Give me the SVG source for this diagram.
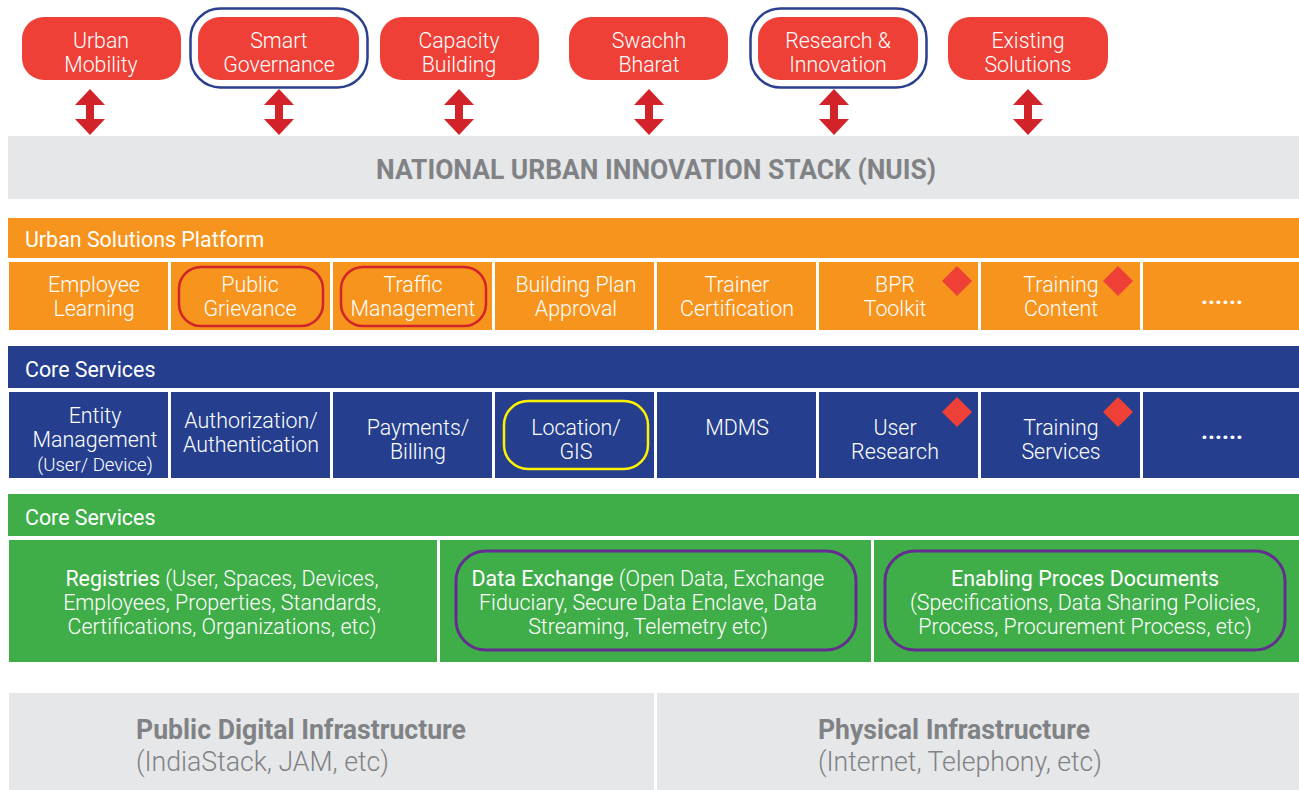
<svg xmlns="http://www.w3.org/2000/svg" width="1299" height="790" viewBox="0 0 1299 790">
<defs>
<style>
.pill{fill:#EE4037}
.ring{fill:none;stroke:#2B3F8F;stroke-width:2.5}
.t{font-family:Roboto,"Liberation Sans",sans-serif;font-weight:300;fill:#FFFFFF;text-anchor:middle}
.pt{font-size:21.3px}
.ct{font-size:21.4px}
.h{font-family:Roboto,"Liberation Sans",sans-serif;font-weight:400;font-size:21.4px;fill:#FFFFFF}
.arrow{fill:#D2232A}
.org{fill:#F7941D}
.blu{fill:#253F8E}
.grn{fill:#3FAE49}
.gry{fill:#E6E7E8}
.dia{fill:#EE4037}
.redo{fill:none;stroke:#D2232A;stroke-width:2.5}
.yel{fill:none;stroke:#FFF200;stroke-width:2.5}
.pur{fill:none;stroke:#662D91;stroke-width:3}
.g1{font-family:Roboto,"Liberation Sans",sans-serif;font-weight:700;fill:#808285}
.g2{font-family:Roboto,"Liberation Sans",sans-serif;font-weight:300;fill:#808285}
.b{font-weight:400}
.dots{font-family:Roboto,"Liberation Sans",sans-serif;font-weight:700;font-size:24px;fill:#FFFFFF;text-anchor:middle}
</style>
<g id="dblArrow"><polygon points="-15,16 0,0 15,16 4,16 4,30 15,30 0,46 -15,30 -4,30 -4,16"/></g>
</defs>
<rect width="1299" height="790" fill="#FFFFFF"/>

<!-- Top pills -->
<g id="n-urban-mobility"><rect class="pill" x="22" y="17" width="159" height="63" rx="22"/><text class="t pt" x="101" y="48">Urban</text><text class="t pt" x="101" y="72">Mobility</text></g>
<g id="n-smart-governance"><rect class="ring" x="190.5" y="8.5" width="177" height="79" rx="30"/><rect class="pill" x="198" y="17" width="161" height="63" rx="22"/><text class="t pt" x="279" y="48">Smart</text><text class="t pt" x="279" y="72">Governance</text></g>
<g id="n-capacity-building"><rect class="pill" x="380" y="17" width="159" height="63" rx="22"/><text class="t pt" x="459" y="48">Capacity</text><text class="t pt" x="459" y="72">Building</text></g>
<g id="n-swachh-bharat"><rect class="pill" x="569" y="17" width="159" height="63" rx="22"/><text class="t pt" x="649" y="48">Swachh</text><text class="t pt" x="649" y="72">Bharat</text></g>
<g id="n-research-innovation"><rect class="ring" x="750.5" y="8.5" width="176" height="79" rx="30"/><rect class="pill" x="758" y="17" width="160" height="63" rx="22"/><text class="t pt" x="838" y="48">Research &amp;</text><text class="t pt" x="838" y="72">Innovation</text></g>
<g id="n-existing-solutions"><rect class="pill" x="948" y="17" width="160" height="63" rx="22"/><text class="t pt" x="1028" y="48">Existing</text><text class="t pt" x="1028" y="72">Solutions</text></g>

<!-- Connectors -->
<g id="connectors" class="arrow">
<use href="#dblArrow" x="90" y="89"/>
<use href="#dblArrow" x="279" y="89"/>
<use href="#dblArrow" x="459" y="89"/>
<use href="#dblArrow" x="649" y="89"/>
<use href="#dblArrow" x="834" y="89"/>
<use href="#dblArrow" x="1028" y="89"/>
</g>

<!-- NUIS band -->
<g id="n-nuis"><rect class="gry" x="8" y="136" width="1291" height="63"/><text class="g1" x="376" y="179" font-size="27" textLength="560" lengthAdjust="spacingAndGlyphs">NATIONAL URBAN INNOVATION STACK (NUIS)</text></g>

<!-- Urban Solutions Platform -->
<g id="n-usp-header"><rect class="org" x="8" y="218" width="1291" height="40"/><text class="h" x="25" y="247">Urban Solutions Platform</text></g>
<g id="n-employee-learning"><rect class="org" x="9" y="262" width="159" height="68"/><text class="t ct" x="94" y="292">Employee</text><text class="t ct" x="94" y="316">Learning</text></g>
<g id="n-public-grievance"><rect class="org" x="171" y="262" width="159" height="68"/><rect class="redo" x="179" y="267" width="144" height="59" rx="22"/><text class="t ct" x="250" y="292">Public</text><text class="t ct" x="250" y="316">Grievance</text></g>
<g id="n-traffic-management"><rect class="org" x="333" y="262" width="159" height="68"/><rect class="redo" x="341" y="267" width="145" height="59" rx="22"/><text class="t ct" x="413" y="292">Traffic</text><text class="t ct" x="413" y="316">Management</text></g>
<g id="n-building-plan"><rect class="org" x="495" y="262" width="159" height="68"/><text class="t ct" x="576" y="292">Building Plan</text><text class="t ct" x="576" y="316">Approval</text></g>
<g id="n-trainer-cert"><rect class="org" x="657" y="262" width="159" height="68"/><text class="t ct" x="737" y="292">Trainer</text><text class="t ct" x="737" y="316">Certification</text></g>
<g id="n-bpr-toolkit"><rect class="org" x="819" y="262" width="159" height="68"/><text class="t ct" x="895" y="292">BPR</text><text class="t ct" x="895" y="316">Toolkit</text><polygon class="dia" points="957,266 972,281 957,296 942,281"/></g>
<g id="n-training-content"><rect class="org" x="981" y="262" width="159" height="68"/><text class="t ct" x="1061" y="292">Training</text><text class="t ct" x="1061" y="316">Content</text><polygon class="dia" points="1118,266 1133,281 1118,296 1103,281"/></g>
<g id="n-usp-more"><rect class="org" x="1143" y="262" width="156" height="68"/><text class="dots" x="1222" y="304">......</text></g>

<!-- Core Services (blue) -->
<g id="n-core-header"><rect class="blu" x="8" y="346" width="1291" height="42"/><text class="h" x="25" y="377">Core Services</text></g>
<g id="n-entity-mgmt"><rect class="blu" x="9" y="392" width="159" height="86"/><text class="t ct" x="95" y="423">Entity</text><text class="t ct" x="95" y="447">Management</text><text class="t" x="95" y="471" font-size="18.6">(User/ Device)</text></g>
<g id="n-authz"><rect class="blu" x="171" y="392" width="159" height="86"/><text class="t ct" x="251" y="428">Authorization/</text><text class="t ct" x="251" y="452">Authentication</text></g>
<g id="n-payments"><rect class="blu" x="333" y="392" width="159" height="86"/><text class="t ct" x="418" y="435">Payments/</text><text class="t ct" x="418" y="459">Billing</text></g>
<g id="n-location"><rect class="blu" x="495" y="392" width="159" height="86"/><rect class="yel" x="504" y="401" width="144" height="68" rx="24"/><text class="t ct" x="576" y="435">Location/</text><text class="t ct" x="576" y="459">GIS</text></g>
<g id="n-mdms"><rect class="blu" x="657" y="392" width="159" height="86"/><text class="t ct" x="737" y="435">MDMS</text></g>
<g id="n-user-research"><rect class="blu" x="819" y="392" width="159" height="86"/><text class="t ct" x="895" y="435">User</text><text class="t ct" x="895" y="459">Research</text><polygon class="dia" points="957,397 972,412 957,427 942,412"/></g>
<g id="n-training-services"><rect class="blu" x="981" y="392" width="159" height="86"/><text class="t ct" x="1061" y="435">Training</text><text class="t ct" x="1061" y="459">Services</text><polygon class="dia" points="1118,397 1133,412 1118,427 1103,412"/></g>
<g id="n-core-more"><rect class="blu" x="1143" y="392" width="156" height="86"/><text class="dots" x="1222" y="439">......</text></g>

<!-- Core Services (green) -->
<g id="n-core2-header"><rect class="grn" x="8" y="494" width="1291" height="42"/><text class="h" x="25" y="525">Core Services</text></g>
<g id="n-registries"><rect class="grn" x="9" y="540" width="428" height="122"/><text class="t ct" x="222" y="586"><tspan class="b">Registries</tspan> (User, Spaces, Devices,</text><text class="t ct" x="222" y="610">Employees, Properties, Standards,</text><text class="t ct" x="222" y="634">Certifications, Organizations, etc)</text></g>
<g id="n-data-exchange"><rect class="grn" x="440" y="540" width="431" height="122"/><rect class="pur" x="456" y="551" width="400" height="99" rx="30"/><text class="t ct" x="648" y="586"><tspan class="b">Data Exchange</tspan> (Open Data, Exchange</text><text class="t ct" x="648" y="610">Fiduciary, Secure Data Enclave, Data</text><text class="t ct" x="648" y="634">Streaming, Telemetry etc)</text></g>
<g id="n-enabling"><rect class="grn" x="874" y="540" width="425" height="122"/><rect class="pur" x="885" y="551" width="400" height="99" rx="30"/><text class="t ct b" x="1085" y="586">Enabling Proces Documents</text><text class="t ct" x="1085" y="610">(Specifications, Data Sharing Policies,</text><text class="t ct" x="1085" y="634">Process, Procurement Process, etc)</text></g>

<!-- Bottom infrastructure -->
<g id="n-public-digital"><rect class="gry" x="9" y="693" width="645" height="97"/><text class="g1" x="136" y="739" font-size="27" textLength="330" lengthAdjust="spacingAndGlyphs">Public Digital Infrastructure</text><text class="g2" x="136" y="771" font-size="27" textLength="253" lengthAdjust="spacingAndGlyphs">(IndiaStack, JAM, etc)</text></g>
<g id="n-physical"><rect class="gry" x="657" y="693" width="642" height="97"/><text class="g1" x="818" y="739" font-size="27" textLength="272" lengthAdjust="spacingAndGlyphs">Physical Infrastructure</text><text class="g2" x="818" y="771" font-size="27" textLength="284" lengthAdjust="spacingAndGlyphs">(Internet, Telephony, etc)</text></g>
</svg>
